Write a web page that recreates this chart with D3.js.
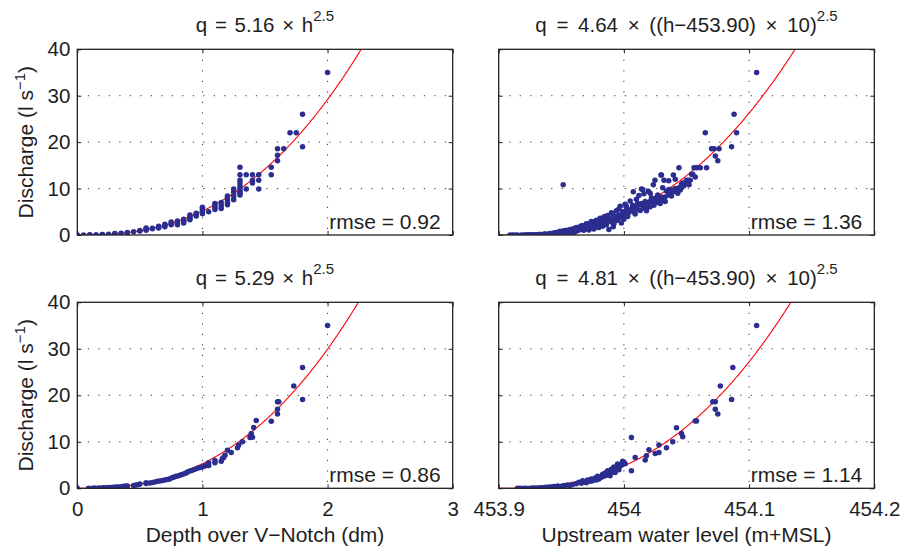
<!DOCTYPE html>
<html>
<head>
<meta charset="utf-8">
<script src="https://d3js.org/d3.v7.min.js"></script>
<style>
  body { margin: 0; background: #fff; }
  text { font-family: "Liberation Sans", Arial, Helvetica, sans-serif; fill: #1e1e1e; }
</style>
</head>
<body>
<svg id="plot"></svg>
<script>
var W = 909, H = 550;

// fit coefficients a in q = a * h^2.5, and the rmse of each fit
var fitCoef = [5.16, 4.64, 5.29, 4.81];
var rmseText = ["0.92", "1.36", "0.86", "1.14"];
var levelBase = 453.9;

var depthTicks = [0, 1, 2, 3];
var levelTicks = [453.9, 454, 454.1, 454.2];
var qTicks = [0, 10, 20, 30, 40];

// top left: depth (dm) vs discharge (l/s)
var tlData = [
  [0,0],[0.05,0.01],[0.1,0.02],[0.1,0.03],[0.15,0.05],[0.2,0.09],[0.2,0.1],[0.25,0.15],
  [0.3,0.25],[0.3,0.3],[0.35,0.37],[0.4,0.5],[0.4,0.55],[0.45,0.7],[0.5,0.85],[0.5,0.95],
  [0.55,1.0],[0.55,1.3],[0.55,1.5],[0.6,1.35],[0.6,1.45],[0.65,1.5],[0.65,1.7],[0.65,1.9],
  [0.7,1.8],[0.7,2.1],[0.7,2.3],[0.75,2.2],[0.75,2.5],[0.75,2.8],[0.8,2.2],[0.8,2.5],
  [0.8,2.7],[0.8,3.0],[0.85,2.6],[0.85,2.9],[0.85,3.2],[0.85,3.4],[0.9,3.3],[0.9,3.6],
  [0.9,4.0],[0.9,4.3],[0.95,4.1],[0.95,4.4],[0.95,4.7],[1.0,4.6],[1.0,5.0],[1.0,5.4],
  [1.0,5.8],[1.0,6.0],[1.05,5.0],[1.1,5.5],[1.1,6.0],[1.1,6.5],[1.1,6.8],[1.15,5.7],
  [1.15,6.3],[1.15,7.0],[1.2,6.5],[1.2,7.0],[1.2,7.6],[1.2,8.0],[1.2,8.4],[1.25,7.6],
  [1.25,8.4],[1.25,9.2],[1.25,9.9],[1.3,8.6],[1.3,9.0],[1.3,9.4],[1.3,9.9],[1.3,10.5],
  [1.3,11.2],[1.3,11.8],[1.3,13.0],[1.3,14.6],[1.35,9.9],[1.35,13.0],[1.4,11.2],[1.4,11.8],
  [1.4,13.0],[1.45,9.9],[1.45,11.8],[1.45,13.0],[1.55,13.0],[1.55,14.6],[1.6,16.0],[1.6,17.2],
  [1.6,18.6],[1.65,18.6],[1.7,22.0],[1.75,22.0],[1.8,19.0],[1.8,26.0],[2.0,35.0]
];

// top right: upstream water level (m+MSL) vs discharge (l/s)
var trData = [
  [453.909,0],[453.911,0],[453.913,0],[453.915,0.01],[453.918,0.02],[453.920,0.02],[453.922,0.03],
  [453.924,0.03],[453.926,0.05],[453.927,0.05],[453.929,0.06],[453.930,0.08],[453.932,0.1],
  [453.933,0.1],[453.934,0.12],[453.936,0.15],[453.937,0.2],[453.938,0.15],[453.940,0.2],
  [453.941,0.3],[453.942,0.25],[453.943,0.4],[453.944,0.35],[453.945,0.5],[453.946,0.3],
  [453.947,0.6],[453.948,0.45],[453.949,0.8],[453.950,0.5],[453.951,0.7],[453.952,0.9],
  [453.9515,10.8],[453.953,0.6],[453.954,1.0],[453.955,0.7],[453.956,0.9],[453.957,1.2],
  [453.958,1.0],[453.959,0.8],[453.960,1.4],[453.961,1.1],[453.962,1.6],[453.963,1.3],
  [453.964,1.0],[453.965,1.8],[453.966,1.5],[453.967,1.2],[453.968,2.0],[453.969,1.6],
  [453.970,1.4],[453.971,2.2],[453.972,1.8],[453.973,2.6],[453.974,1.5],[453.975,2.0],
  [453.976,2.8],[453.977,2.3],[453.978,1.7],[453.979,3.0],[453.980,2.5],[453.981,2.0],
  [453.982,3.4],[453.983,2.7],[453.984,3.9],[453.985,2.3],[453.986,3.1],[453.987,4.2],
  [453.988,1.2],[453.989,3.5],[453.990,2.8],[453.991,4.6],[453.9915,1.8],[453.992,3.6],
  [453.993,4.0],[453.994,5.2],[453.995,3.3],[453.996,4.3],[453.997,6.2],[453.998,3.8],
  [453.999,5.0],[454.000,4.4],[454.001,6.6],[454.002,5.4],[454.003,4.0],[454.004,4.9],
  [454.005,7.3],[454.006,5.6],[454.0075,9.3],[454.008,5.0],[454.009,6.0],[454.010,7.7],
  [454.011,5.5],[454.012,8.5],[454.013,6.5],[454.014,9.9],[454.0142,6.8],[454.015,9.8],
  [454.0155,6.1],[454.016,5.8],[454.017,7.2],[454.018,6.2],[454.0195,9.4],[454.0195,6.1],
  [454.020,7.0],[454.0209,7.2],[454.021,6.1],[454.022,8.0],[454.0235,10.8],[454.0235,7.5],
  [454.0248,11.8],[454.026,7.0],[454.0262,7.2],[454.027,8.6],[454.028,7.9],[454.0289,7.9],
  [454.0296,12.9],[454.030,12.9],[454.030,8.2],[454.0315,7.5],[454.032,11.8],[454.0329,8.2],
  [454.034,9.5],[454.0355,8.6],[454.0358,11.7],[454.0369,8.9],[454.037,9.3],[454.038,9.7],
  [454.0395,12.9],[454.0395,9.3],[454.041,10.0],[454.042,9.6],[454.044,14.5],[454.044,10.2],
  [454.045,9.7],[454.046,11.0],[454.047,11.2],[454.048,10.6],[454.050,11.8],[454.0515,11.8],
  [454.053,11.8],[454.054,13.1],[454.055,13.1],[454.056,14.5],[454.058,14.5],[454.061,14.5],
  [454.065,22.0],[454.066,14.5],[454.070,18.6],[454.072,18.6],[454.073,17.0],[454.075,16.0],
  [454.076,18.6],[454.086,19.0],[454.088,26.0],[454.090,22.0],[454.106,35.0],
  [453.956,0.4],[453.958,0.6],[453.960,0.5],[453.962,0.8],[453.964,1.6],[453.966,2.0],
  [453.968,1.0],[453.970,2.4],[453.972,1.1],[453.974,2.9],[453.976,1.3],[453.978,3.2],
  [453.980,1.6],[453.981,3.6],[453.983,1.9],[453.985,4.0],[453.986,2.2],[453.988,3.0],
  [453.990,4.8],[453.992,2.4],[453.994,3.1],[453.996,5.6],[453.998,2.6],[454.000,3.4],
  [454.002,6.2],[454.003,4.6],[454.005,5.2],[454.007,6.4],[454.009,4.5],[454.011,6.8],
  [454.013,5.3],[454.016,8.9],[454.018,5.2],[454.021,9.0],[454.024,6.4],[454.026,8.0],
  [454.029,6.8],[454.031,10.2],[454.033,7.2],[454.036,9.8],[454.038,8.4],[454.041,12.0],
  [454.043,9.0],[454.046,10.2],[454.049,11.2],[454.052,10.8],[454.057,12.5]
];

// bottom left: depth (dm) vs discharge (l/s)
var blData = [
  [0,0],[0.09,0.02],[0.12,0.03],[0.14,0.04],[0.17,0.06],[0.19,0.08],[0.21,0.1],[0.23,0.12],
  [0.25,0.15],[0.27,0.18],[0.29,0.22],[0.31,0.26],[0.33,0.3],[0.35,0.36],[0.37,0.42],
  [0.39,0.48],[0.40,0.5],[0.45,0.62],[0.47,0.72],[0.49,0.82],[0.50,0.9],[0.55,1.05],
  [0.55,1.2],[0.58,1.15],[0.60,1.25],[0.62,1.35],[0.64,1.5],[0.66,1.55],[0.68,1.7],
  [0.70,1.8],[0.72,1.9],[0.74,2.0],[0.76,2.3],[0.77,2.4],[0.79,2.6],[0.81,2.7],
  [0.83,2.9],[0.85,3.1],[0.87,3.3],[0.88,3.5],[0.90,3.7],[0.92,3.9],[0.94,4.1],
  [0.96,4.3],[0.98,4.5],[1.0,4.6],[1.02,4.8],[1.04,5.0],[1.05,5.5],[1.05,4.9],
  [1.1,5.5],[1.1,6.0],[1.15,5.8],[1.16,6.4],[1.17,6.6],[1.18,7.1],[1.20,8.2],
  [1.23,7.7],[1.28,8.7],[1.29,9.3],[1.32,10.0],[1.38,10.9],[1.39,11.8],[1.40,11.0],
  [1.41,13.1],[1.43,14.6],[1.55,14.4],[1.60,16.0],[1.60,17.0],[1.60,18.6],[1.61,18.6],
  [1.73,22.0],[1.80,19.1],[1.80,26.0],[2.0,35.0]
];

// bottom right: upstream water level (m+MSL) vs discharge (l/s)
var brData = [
  [453.915,0],[453.917,0],[453.920,0],[453.922,0.02],[453.925,0.03],[453.927,0.05],
  [453.929,0.05],[453.931,0.08],[453.933,0.1],[453.935,0.12],[453.937,0.15],[453.938,0.2],
  [453.940,0.2],[453.941,0.3],[453.943,0.3],[453.944,0.4],[453.946,0.35],[453.947,0.5],
  [453.949,0.4],[453.951,0.5],[453.953,0.6],[453.955,0.7],[453.957,0.6],[453.959,0.8],
  [453.962,1.0],[453.964,1.3],[453.966,1.1],[453.967,1.6],[453.969,1.4],[453.970,1.2],
  [453.971,1.8],[453.973,1.5],[453.974,2.0],[453.975,1.6],[453.977,2.2],[453.978,1.8],
  [453.979,2.6],[453.980,2.0],[453.982,2.4],[453.983,3.0],[453.984,2.6],[453.985,3.3],
  [453.986,2.8],[453.987,3.8],[453.988,3.2],[453.989,2.7],[453.990,4.1],[453.991,3.5],
  [453.992,4.6],[453.993,3.4],[453.994,4.4],[453.995,5.2],[453.996,4.0],[453.997,4.8],
  [453.998,5.0],[453.999,5.8],[454.000,5.6],[454.001,5.3],[454.006,10.9],[454.006,3.8],
  [454.009,6.6],[454.017,6.1],[454.018,7.0],[454.020,8.3],[454.025,7.5],[454.028,9.3],
  [454.028,7.7],[454.034,8.7],[454.039,10.0],[454.042,13.0],[454.046,11.8],[454.047,11.1],
  [454.057,14.5],[454.058,14.5],[454.071,18.6],[454.073,18.6],[454.073,17.0],[454.075,16.0],
  [454.077,22.0],[454.086,19.1],[454.087,26.0],[454.106,35.0]
];

var dotColor = "#2b2d90";
var colL = [77.3, 452.7], colR = [498.7, 874.3];
var rowT = [49.3, 235], rowB = [302.3, 488.3];

var panels = [
  { data: tlData, xr: colL, yr: rowT, dom: [0, 3], ticks: depthTicks, coef: fitCoef[0], rmse: rmseText[0], level: false, xLabels: false, yLabels: true },
  { data: trData, xr: colR, yr: rowT, dom: [453.9, 454.2], ticks: levelTicks, coef: fitCoef[1], rmse: rmseText[1], level: true, xLabels: false, yLabels: false },
  { data: blData, xr: colL, yr: rowB, dom: [0, 3], ticks: depthTicks, coef: fitCoef[2], rmse: rmseText[2], level: false, xLabels: true, yLabels: true },
  { data: brData, xr: colR, yr: rowB, dom: [453.9, 454.2], ticks: levelTicks, coef: fitCoef[3], rmse: rmseText[3], level: true, xLabels: true, yLabels: false }
];

var svg = d3.select("#plot").attr("width", W).attr("height", H);
var defs = svg.append("defs");

panels.forEach(function(p, i) {
  var x = d3.scaleLinear().domain(p.dom).range(p.xr);
  var y = d3.scaleLinear().domain([0, 40]).range([p.yr[1], p.yr[0]]);
  var g = svg.append("g");
  var pw = p.xr[1] - p.xr[0], ph = p.yr[1] - p.yr[0];
  var cx = (p.xr[0] + p.xr[1]) / 2;

  defs.append("clipPath").attr("id", "clip" + i)
    .append("rect").attr("x", p.xr[0]).attr("y", p.yr[0]).attr("width", pw).attr("height", ph);

  // dotted grid
  g.selectAll(".gx").data(p.ticks.slice(1, -1)).enter().append("line")
    .attr("x1", function(d) { return x(d); }).attr("x2", function(d) { return x(d); })
    .attr("y1", p.yr[0]).attr("y2", p.yr[1])
    .attr("stroke", "#333").attr("stroke-width", 1).attr("stroke-dasharray", "1.2,9.3");
  g.selectAll(".gy").data(qTicks.slice(1, -1)).enter().append("line")
    .attr("x1", p.xr[0]).attr("x2", p.xr[1])
    .attr("y1", function(d) { return y(d); }).attr("y2", function(d) { return y(d); })
    .attr("stroke", "#333").attr("stroke-width", 1).attr("stroke-dasharray", "1.2,9.3");

  // axes, ticks pointing inward
  var fmt = function(d) { return String(d); };
  g.append("g").attr("transform", "translate(0," + p.yr[1] + ")")
    .call(d3.axisBottom(x).tickValues(p.ticks).tickSizeInner(-4).tickSizeOuter(0).tickPadding(13)
      .tickFormat(p.xLabels ? fmt : ""));
  g.append("g").attr("transform", "translate(0," + p.yr[0] + ")")
    .call(d3.axisTop(x).tickValues(p.ticks).tickSizeInner(-4).tickSizeOuter(0).tickFormat(""));
  g.append("g").attr("transform", "translate(" + p.xr[0] + ",0)")
    .call(d3.axisLeft(y).tickValues(qTicks).tickSizeInner(-4).tickSizeOuter(0).tickPadding(7)
      .tickFormat(p.yLabels ? fmt : ""));
  g.append("g").attr("transform", "translate(" + p.xr[1] + ",0)")
    .call(d3.axisRight(y).tickValues(qTicks).tickSizeInner(-4).tickSizeOuter(0).tickFormat(""));
  g.selectAll(".domain").remove();
  g.selectAll(".tick line").attr("stroke", "#222");
  g.selectAll(".tick text").attr("font-size", 20.5).attr("fill", "#1e1e1e")
    .attr("font-family", "Liberation Sans, Arial, sans-serif");

  // fitted curve from the coefficient in the title
  var curveX = d3.range(p.dom[0], p.dom[1], (p.dom[1] - p.dom[0]) / 600).concat([p.dom[1]]);
  var curve = curveX.map(function(h) {
    var t = p.level ? (h - levelBase) * 10 : h;
    return [h, p.coef * Math.pow(Math.max(t, 0), 2.5)];
  }).filter(function(d) { return d[1] < 45; });
  g.append("path").datum(curve)
    .attr("clip-path", "url(#clip" + i + ")")
    .attr("fill", "none").attr("stroke", "#f00").attr("stroke-width", 1.1)
    .attr("d", d3.line().x(function(d) { return x(d[0]); }).y(function(d) { return y(d[1]); }));

  // observations
  g.append("g").attr("clip-path", "url(#clip" + i + ")")
    .selectAll("circle").data(p.data).enter().append("circle")
    .attr("cx", function(d) { return x(d[0]); })
    .attr("cy", function(d) { return y(d[1]); })
    .attr("r", 2.75).attr("fill", dotColor);

  // box
  g.append("rect").attr("x", p.xr[0]).attr("y", p.yr[0]).attr("width", pw).attr("height", ph)
    .attr("fill", "none").attr("stroke", "#222").attr("stroke-width", 1.3);

  // rmse label
  g.append("text").attr("x", p.xr[1] - 12).attr("y", p.yr[1] - 6.5)
    .attr("text-anchor", "end").attr("font-size", 21)
    .text("rmse = " + p.rmse);

  // title with superscript exponent
  var title = g.append("text").attr("x", cx).attr("y", p.yr[0] - 17.3)
    .attr("text-anchor", "middle").attr("font-size", 20.5)
    .attr("word-spacing", p.level ? 4 : 2);
  if (p.level) {
    title.append("tspan").text("q = " + p.coef.toFixed(2) + " \u00d7 ((h\u2212" + levelBase.toFixed(2) + ") \u00d7 10)");
  } else {
    title.append("tspan").text("q = " + p.coef.toFixed(2) + " \u00d7 h");
  }
  title.append("tspan").attr("dy", -11).attr("font-size", 15).text("2.5");

  // y label
  if (p.yLabels) {
    var yl = g.append("text")
      .attr("transform", "translate(33," + ((p.yr[0] + p.yr[1]) / 2) + ") rotate(-90)")
      .attr("text-anchor", "middle").attr("font-size", 21);
    yl.append("tspan").text("Discharge (l s");
    yl.append("tspan").attr("dy", -8).attr("font-size", 15).text("\u22121");
    yl.append("tspan").attr("dy", 8).text(")");
  }

  // x label
  if (p.xLabels) {
    g.append("text").attr("x", cx).attr("y", 541.5)
      .attr("text-anchor", "middle").attr("font-size", 21)
      .text(p.level ? "Upstream water level (m+MSL)" : "Depth over V\u2212Notch (dm)");
  }
});
</script>
</body>
</html>
